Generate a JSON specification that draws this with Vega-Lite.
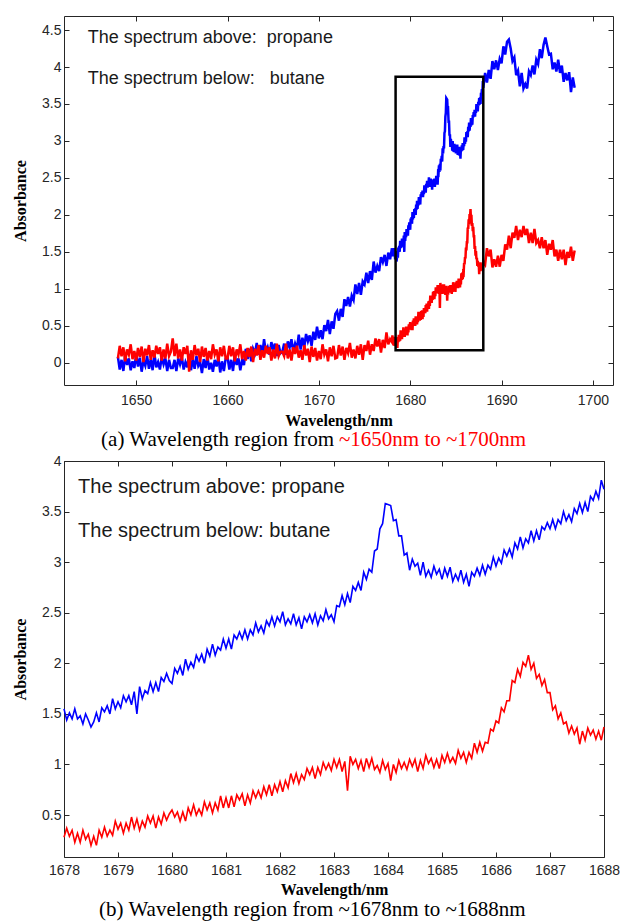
{
"$schema": "https://vega.github.io/schema/vega-lite/v6.json",
"autosize": {"type": "pad"},
"padding": {"left": 12, "top": 15, "right": 0, "bottom": 0},
"bounds": "flush",
"spacing": 76,
"background": "white",
"config": {
  "view": {"stroke": "#262626", "strokeWidth": 1},
  "axis": {"grid": false, "domain": false, "tickSize": -5, "tickColor": "#262626", "tickWidth": 1, "labelFont": "Liberation Sans", "labelFontSize": 14, "labelColor": "#262626", "labelFlush": false, "labelOverlap": false, "titleFont": "Liberation Serif", "titleFontSize": 16, "titleFontWeight": "bold", "titleColor": "#000000"},
  "axisX": {"labelPadding": 13},
  "axisY": {"labelPadding": 8, "titlePadding": 13}
},
"datasets": {
"spec": [
{"x":1648.0,"p":0.08,"b":0.06},{"x":1648.2,"p":-0.09,"b":0.23},{"x":1648.4,"p":0.04,"b":0.09},{"x":1648.6,"p":-0.11,"b":0.21},{"x":1648.8,"p":0.10,"b":0.02},
{"x":1649.0,"p":-0.03,"b":0.18},{"x":1649.2,"p":0.06,"b":0.11},{"x":1649.4,"p":-0.10,"b":0.25},{"x":1649.6,"p":0.02,"b":0.05},{"x":1649.8,"p":-0.07,"b":0.16},
{"x":1650.0,"p":0.11,"b":0.03},{"x":1650.2,"p":-0.05,"b":0.20},{"x":1650.4,"p":0.07,"b":0.08},{"x":1650.6,"p":-0.12,"b":0.22},{"x":1650.8,"p":0.03,"b":0.01},
{"x":1651.0,"p":-0.04,"b":0.19},{"x":1651.2,"p":0.09,"b":0.10},{"x":1651.4,"p":-0.08,"b":0.24},{"x":1651.6,"p":0.05,"b":0.04},{"x":1651.8,"p":-0.10,"b":0.17},
{"x":1652.0,"p":0.12,"b":0.07},{"x":1652.2,"p":-0.06,"b":0.23},{"x":1652.4,"p":0.01,"b":0.12},{"x":1652.6,"p":-0.09,"b":0.21},{"x":1652.8,"p":0.08,"b":0.03},
{"x":1653.0,"p":-0.02,"b":0.18},{"x":1653.2,"p":0.06,"b":0.06},{"x":1653.4,"p":-0.11,"b":0.26},{"x":1653.6,"p":0.04,"b":0.09},{"x":1653.8,"p":-0.07,"b":0.15},
{"x":1654.0,"p":-0.07,"b":0.33},{"x":1654.2,"p":0.04,"b":0.09},{"x":1654.4,"p":-0.11,"b":0.26},{"x":1654.6,"p":0.06,"b":0.06},{"x":1654.8,"p":-0.02,"b":0.18},
{"x":1655.0,"p":0.08,"b":0.03},{"x":1655.2,"p":-0.09,"b":0.21},{"x":1655.4,"p":0.01,"b":0.12},{"x":1655.6,"p":-0.06,"b":0.23},{"x":1655.8,"p":0.12,"b":-0.12},
{"x":1656.0,"p":-0.10,"b":0.17},{"x":1656.2,"p":0.05,"b":0.04},{"x":1656.4,"p":-0.08,"b":0.24},{"x":1656.6,"p":0.09,"b":0.10},{"x":1656.8,"p":-0.04,"b":0.19},
{"x":1657.0,"p":0.01,"b":0.01},{"x":1657.2,"p":-0.14,"b":0.22},{"x":1657.4,"p":0.05,"b":0.08},{"x":1657.6,"p":-0.07,"b":0.20},{"x":1657.8,"p":0.09,"b":0.03},
{"x":1658.0,"p":-0.09,"b":0.16},{"x":1658.2,"p":0.00,"b":0.05},{"x":1658.4,"p":-0.12,"b":0.25},{"x":1658.6,"p":0.04,"b":0.11},{"x":1658.8,"p":-0.05,"b":0.18},
{"x":1659.0,"p":0.08,"b":0.02},{"x":1659.2,"p":-0.13,"b":0.21},{"x":1659.4,"p":0.02,"b":0.09},{"x":1659.6,"p":-0.11,"b":0.23},{"x":1659.8,"p":0.06,"b":0.06},
{"x":1660.0,"p":0.08,"b":0.06},{"x":1660.2,"p":-0.09,"b":0.23},{"x":1660.4,"p":0.04,"b":0.09},{"x":1660.6,"p":-0.11,"b":0.21},{"x":1660.8,"p":0.10,"b":0.02},
{"x":1661.0,"p":-0.03,"b":0.18},{"x":1661.2,"p":0.06,"b":0.11},{"x":1661.4,"p":-0.10,"b":0.25},{"x":1661.6,"p":0.04,"b":0.05},{"x":1661.8,"p":-0.03,"b":0.16},
{"x":1662.0,"p":0.19,"b":0.03},{"x":1662.2,"p":0.05,"b":0.20},{"x":1662.4,"p":0.19,"b":0.08},{"x":1662.6,"p":0.02,"b":0.22},{"x":1662.8,"p":0.19,"b":0.01},
{"x":1663.0,"p":0.13,"b":0.19},{"x":1663.2,"p":0.27,"b":0.10},{"x":1663.4,"p":0.11,"b":0.24},{"x":1663.6,"p":0.24,"b":0.04},{"x":1663.8,"p":0.10,"b":0.17},
{"x":1664.0,"p":0.32,"b":0.07},{"x":1664.2,"p":0.14,"b":0.23},{"x":1664.4,"p":0.21,"b":0.12},{"x":1664.6,"p":0.11,"b":0.21},{"x":1664.8,"p":0.28,"b":0.03},
{"x":1665.0,"p":0.18,"b":0.18},{"x":1665.2,"p":0.26,"b":0.06},{"x":1665.4,"p":0.09,"b":0.26},{"x":1665.6,"p":0.24,"b":0.09},{"x":1665.8,"p":0.13,"b":0.15},
{"x":1666.0,"p":0.15,"b":0.15},{"x":1666.2,"p":0.26,"b":0.09},{"x":1666.4,"p":0.11,"b":0.26},{"x":1666.6,"p":0.29,"b":0.06},{"x":1666.8,"p":0.21,"b":0.18},
{"x":1667.0,"p":0.32,"b":0.03},{"x":1667.2,"p":0.15,"b":0.21},{"x":1667.4,"p":0.26,"b":0.12},{"x":1667.6,"p":0.19,"b":0.23},{"x":1667.8,"p":0.38,"b":0.07},
{"x":1668.0,"p":0.18,"b":0.17},{"x":1668.2,"p":0.34,"b":0.04},{"x":1668.4,"p":0.21,"b":0.24},{"x":1668.6,"p":0.39,"b":0.10},{"x":1668.8,"p":0.29,"b":0.19},
{"x":1669.0,"p":0.37,"b":0.01},{"x":1669.2,"p":0.23,"b":0.22},{"x":1669.4,"p":0.42,"b":0.08},{"x":1669.6,"p":0.31,"b":0.20},{"x":1669.8,"p":0.49,"b":0.03},
{"x":1670.0,"p":0.33,"b":0.16},{"x":1670.2,"p":0.44,"b":0.05},{"x":1670.4,"p":0.32,"b":0.25},{"x":1670.6,"p":0.51,"b":0.11},{"x":1670.8,"p":0.43,"b":0.18},
{"x":1671.0,"p":0.58,"b":0.02},{"x":1671.2,"p":0.39,"b":0.21},{"x":1671.4,"p":0.56,"b":0.09},{"x":1671.6,"p":0.46,"b":0.23},{"x":1671.8,"p":0.66,"b":0.06},
{"x":1672.0,"p":0.70,"b":0.07},{"x":1672.2,"p":0.57,"b":0.24},{"x":1672.4,"p":0.73,"b":0.10},{"x":1672.6,"p":0.62,"b":0.22},{"x":1672.8,"p":0.86,"b":0.04},
{"x":1673.0,"p":0.77,"b":0.20},{"x":1673.2,"p":0.89,"b":0.13},{"x":1673.4,"p":0.76,"b":0.27},{"x":1673.6,"p":0.91,"b":0.07},{"x":1673.8,"p":0.85,"b":0.18},
{"x":1674.0,"p":1.06,"b":0.06},{"x":1674.2,"p":0.93,"b":0.23},{"x":1674.4,"p":1.08,"b":0.11},{"x":1674.6,"p":0.92,"b":0.25},{"x":1674.8,"p":1.10,"b":0.04},
{"x":1675.0,"p":1.06,"b":0.24},{"x":1675.2,"p":1.22,"b":0.16},{"x":1675.4,"p":1.08,"b":0.30},{"x":1675.6,"p":1.24,"b":0.11},{"x":1675.8,"p":1.12,"b":0.25},
{"x":1676.0,"p":1.37,"b":0.16},{"x":1676.2,"p":1.22,"b":0.33},{"x":1676.4,"p":1.31,"b":0.22},{"x":1676.6,"p":1.24,"b":0.32},{"x":1676.8,"p":1.43,"b":0.14},
{"x":1677.0,"p":1.36,"b":0.31},{"x":1677.2,"p":1.46,"b":0.20},{"x":1677.4,"p":1.31,"b":0.41},{"x":1677.6,"p":1.49,"b":0.25},{"x":1677.8,"p":1.40,"b":0.32},
{"x":1678.00,"p":1.55,"b":0.28},{"x":1678.05,"p":1.44,"b":0.37},{"x":1678.10,"p":1.51,"b":0.29},{"x":1678.15,"p":1.45,"b":0.35},{"x":1678.20,"p":1.55,"b":0.23},
{"x":1678.25,"p":1.45,"b":0.32},{"x":1678.30,"p":1.48,"b":0.23},{"x":1678.35,"p":1.40,"b":0.35},{"x":1678.40,"p":1.50,"b":0.26},{"x":1678.45,"p":1.44,"b":0.31},
{"x":1678.50,"p":1.37,"b":0.20},{"x":1678.55,"p":1.42,"b":0.29},{"x":1678.60,"p":1.51,"b":0.20},{"x":1678.65,"p":1.42,"b":0.35},{"x":1678.70,"p":1.56,"b":0.28},
{"x":1678.75,"p":1.52,"b":0.38},{"x":1678.80,"p":1.58,"b":0.29},{"x":1678.85,"p":1.50,"b":0.35},{"x":1678.90,"p":1.65,"b":0.30},{"x":1678.95,"p":1.55,"b":0.44},
{"x":1679.00,"p":1.62,"b":0.36},{"x":1679.05,"p":1.56,"b":0.42},{"x":1679.10,"p":1.68,"b":0.32},{"x":1679.15,"p":1.62,"b":0.42},{"x":1679.20,"p":1.68,"b":0.35},
{"x":1679.25,"p":1.59,"b":0.48},{"x":1679.30,"p":1.72,"b":0.37},{"x":1679.35,"p":1.50,"b":0.46},{"x":1679.40,"p":1.77,"b":0.35},{"x":1679.45,"p":1.65,"b":0.44},
{"x":1679.50,"p":1.73,"b":0.38},{"x":1679.55,"p":1.70,"b":0.49},{"x":1679.60,"p":1.81,"b":0.42},{"x":1679.65,"p":1.72,"b":0.49},{"x":1679.70,"p":1.81,"b":0.37},
{"x":1679.75,"p":1.72,"b":0.48},{"x":1679.80,"p":1.86,"b":0.41},{"x":1679.85,"p":1.82,"b":0.52},{"x":1679.90,"p":1.90,"b":0.45},{"x":1679.95,"p":1.83,"b":0.51},
{"x":1680.00,"p":1.80,"b":0.55},{"x":1680.05,"p":1.95,"b":0.48},{"x":1680.10,"p":1.90,"b":0.53},{"x":1680.15,"p":1.97,"b":0.44},{"x":1680.20,"p":1.88,"b":0.53},
{"x":1680.25,"p":2.04,"b":0.44},{"x":1680.30,"p":1.94,"b":0.57},{"x":1680.35,"p":2.01,"b":0.50},{"x":1680.40,"p":1.96,"b":0.60},{"x":1680.45,"p":2.08,"b":0.50},
{"x":1680.50,"p":2.02,"b":0.56},{"x":1680.55,"p":2.09,"b":0.50},{"x":1680.60,"p":2.00,"b":0.63},{"x":1680.65,"p":2.14,"b":0.55},{"x":1680.70,"p":2.07,"b":0.62},
{"x":1680.75,"p":2.19,"b":0.52},{"x":1680.80,"p":2.08,"b":0.62},{"x":1680.85,"p":2.16,"b":0.55},{"x":1680.90,"p":2.13,"b":0.69},{"x":1680.95,"p":2.24,"b":0.57},
{"x":1681.00,"p":2.15,"b":0.67},{"x":1681.05,"p":2.24,"b":0.57},{"x":1681.10,"p":2.14,"b":0.69},{"x":1681.15,"p":2.28,"b":0.58},{"x":1681.20,"p":2.24,"b":0.70},
{"x":1681.25,"p":2.31,"b":0.65},{"x":1681.30,"p":2.24,"b":0.71},{"x":1681.35,"p":2.33,"b":0.59},{"x":1681.40,"p":2.24,"b":0.70},{"x":1681.45,"p":2.33,"b":0.62},
{"x":1681.50,"p":2.28,"b":0.74},{"x":1681.55,"p":2.40,"b":0.67},{"x":1681.60,"p":2.31,"b":0.74},{"x":1681.65,"p":2.37,"b":0.67},{"x":1681.70,"p":2.30,"b":0.78},
{"x":1681.75,"p":2.42,"b":0.70},{"x":1681.80,"p":2.37,"b":0.80},{"x":1681.85,"p":2.46,"b":0.69},{"x":1681.90,"p":2.37,"b":0.80},{"x":1681.95,"p":2.46,"b":0.73},
{"x":1682.00,"p":2.41,"b":0.83},{"x":1682.05,"p":2.51,"b":0.73},{"x":1682.10,"p":2.38,"b":0.84},{"x":1682.15,"p":2.44,"b":0.77},{"x":1682.20,"p":2.39,"b":0.91},
{"x":1682.25,"p":2.49,"b":0.82},{"x":1682.30,"p":2.38,"b":0.91},{"x":1682.35,"p":2.45,"b":0.81},{"x":1682.40,"p":2.34,"b":0.90},{"x":1682.45,"p":2.46,"b":0.85},
{"x":1682.50,"p":2.41,"b":0.96},{"x":1682.55,"p":2.48,"b":0.90},{"x":1682.60,"p":2.40,"b":0.97},{"x":1682.65,"p":2.49,"b":0.86},{"x":1682.70,"p":2.38,"b":0.97},
{"x":1682.75,"p":2.47,"b":0.90},{"x":1682.80,"p":2.42,"b":1.02},{"x":1682.85,"p":2.53,"b":0.95},{"x":1682.90,"p":2.44,"b":1.01},{"x":1682.95,"p":2.48,"b":0.94},
{"x":1683.00,"p":2.41,"b":1.05},{"x":1683.05,"p":2.57,"b":0.97},{"x":1683.10,"p":2.56,"b":1.05},{"x":1683.15,"p":2.67,"b":0.93},{"x":1683.20,"p":2.58,"b":1.03},
{"x":1683.25,"p":2.69,"b":0.74},{"x":1683.30,"p":2.60,"b":1.08},{"x":1683.35,"p":2.76,"b":1.00},{"x":1683.40,"p":2.72,"b":1.05},{"x":1683.45,"p":2.80,"b":0.96},
{"x":1683.50,"p":2.72,"b":1.04},{"x":1683.55,"p":2.90,"b":0.93},{"x":1683.60,"p":2.83,"b":1.06},{"x":1683.65,"p":2.93,"b":0.97},{"x":1683.70,"p":2.90,"b":1.06},
{"x":1683.75,"p":3.11,"b":0.95},{"x":1683.80,"p":3.13,"b":0.99},{"x":1683.85,"p":3.33,"b":0.92},{"x":1683.90,"p":3.38,"b":1.04},{"x":1683.95,"p":3.58,"b":0.95},
{"x":1684.00,"p":3.57,"b":1.01},{"x":1684.05,"p":3.56,"b":0.84},{"x":1684.10,"p":3.41,"b":1.00},{"x":1684.15,"p":3.42,"b":0.92},{"x":1684.20,"p":3.26,"b":1.04},
{"x":1684.25,"p":3.26,"b":0.96},{"x":1684.30,"p":3.07,"b":1.02},{"x":1684.35,"p":3.09,"b":0.95},{"x":1684.40,"p":2.92,"b":1.05},{"x":1684.45,"p":3.03,"b":0.98},
{"x":1684.50,"p":2.96,"b":1.05},{"x":1684.55,"p":2.99,"b":0.93},{"x":1684.60,"p":2.87,"b":1.04},{"x":1684.65,"p":3.00,"b":0.96},{"x":1684.70,"p":2.86,"b":1.09},
{"x":1684.75,"p":2.92,"b":1.01},{"x":1684.80,"p":2.85,"b":1.06},{"x":1684.85,"p":2.96,"b":0.97},{"x":1684.90,"p":2.88,"b":1.05},{"x":1684.95,"p":2.93,"b":0.96},
{"x":1685.00,"p":2.83,"b":1.09},{"x":1685.05,"p":2.94,"b":1.02},{"x":1685.10,"p":2.86,"b":1.11},{"x":1685.15,"p":2.95,"b":1.02},{"x":1685.20,"p":2.81,"b":1.07},
{"x":1685.25,"p":2.88,"b":1.01},{"x":1685.30,"p":2.82,"b":1.14},{"x":1685.35,"p":2.92,"b":1.06},{"x":1685.40,"p":2.80,"b":1.12},{"x":1685.45,"p":2.88,"b":1.02},
{"x":1685.50,"p":2.76,"b":1.12},{"x":1685.55,"p":2.90,"b":1.06},{"x":1685.60,"p":2.86,"b":1.21},{"x":1685.65,"p":2.94,"b":1.12},{"x":1685.70,"p":2.87,"b":1.22},
{"x":1685.75,"p":2.97,"b":1.13},{"x":1685.80,"p":2.88,"b":1.22},{"x":1685.85,"p":2.97,"b":1.21},{"x":1685.90,"p":2.93,"b":1.35},{"x":1685.95,"p":3.05,"b":1.33},
{"x":1686.00,"p":2.96,"b":1.43},{"x":1686.05,"p":3.04,"b":1.41},{"x":1686.10,"p":2.99,"b":1.56},{"x":1686.15,"p":3.12,"b":1.52},{"x":1686.20,"p":3.06,"b":1.63},
{"x":1686.25,"p":3.13,"b":1.63},{"x":1686.30,"p":3.05,"b":1.83},{"x":1686.35,"p":3.19,"b":1.81},{"x":1686.40,"p":3.13,"b":1.94},{"x":1686.45,"p":3.25,"b":1.87},
{"x":1686.50,"p":3.14,"b":2.01},{"x":1686.55,"p":3.23,"b":1.97},{"x":1686.60,"p":3.19,"b":2.08},{"x":1686.65,"p":3.31,"b":1.94},{"x":1686.70,"p":3.21,"b":2.00},
{"x":1686.75,"p":3.31,"b":1.85},{"x":1686.80,"p":3.22,"b":1.89},{"x":1686.85,"p":3.35,"b":1.78},{"x":1686.90,"p":3.32,"b":1.84},{"x":1686.95,"p":3.39,"b":1.71},
{"x":1687.00,"p":3.33,"b":1.71},{"x":1687.05,"p":3.42,"b":1.54},{"x":1687.10,"p":3.33,"b":1.58},{"x":1687.15,"p":3.42,"b":1.45},{"x":1687.20,"p":3.38,"b":1.51},
{"x":1687.25,"p":3.50,"b":1.40},{"x":1687.30,"p":3.41,"b":1.42},{"x":1687.35,"p":3.47,"b":1.31},{"x":1687.40,"p":3.40,"b":1.38},{"x":1687.45,"p":3.53,"b":1.30},
{"x":1687.50,"p":3.48,"b":1.36},{"x":1687.55,"p":3.58,"b":1.20},{"x":1687.60,"p":3.49,"b":1.33},{"x":1687.65,"p":3.59,"b":1.24},{"x":1687.70,"p":3.50,"b":1.36},
{"x":1687.75,"p":3.65,"b":1.29},{"x":1687.80,"p":3.61,"b":1.34},{"x":1687.85,"p":3.70,"b":1.25},{"x":1687.90,"p":3.63,"b":1.33},{"x":1687.95,"p":3.81,"b":1.24},
{"x":1688.00,"p":3.72,"b":1.37},
{"x":1688.2,"p":3.92,"b":1.33},{"x":1688.4,"p":3.79,"b":1.55},{"x":1688.6,"p":3.96,"b":1.44},{"x":1688.8,"p":3.84,"b":1.53},{"x":1689.0,"p":4.08,"b":1.29},
{"x":1689.2,"p":3.97,"b":1.40},{"x":1689.4,"p":4.09,"b":1.30},{"x":1689.6,"p":3.96,"b":1.45},{"x":1689.8,"p":4.11,"b":1.30},{"x":1690.0,"p":4.05,"b":1.46},
{"x":1690.2,"p":4.28,"b":1.38},{"x":1690.4,"p":4.17,"b":1.60},{"x":1690.6,"p":4.34,"b":1.53},{"x":1690.8,"p":4.37,"b":1.72},{"x":1691.0,"p":4.25,"b":1.55},
{"x":1691.2,"p":4.08,"b":1.76},{"x":1691.4,"p":4.13,"b":1.69},{"x":1691.6,"p":3.89,"b":1.85},{"x":1691.8,"p":3.95,"b":1.66},{"x":1692.0,"p":3.74,"b":1.80},
{"x":1692.2,"p":3.92,"b":1.70},{"x":1692.4,"p":3.71,"b":1.85},{"x":1692.6,"p":3.77,"b":1.73},{"x":1692.8,"p":3.71,"b":1.81},{"x":1693.0,"p":3.94,"b":1.62},
{"x":1693.2,"p":3.89,"b":1.76},{"x":1693.4,"p":4.02,"b":1.62},{"x":1693.6,"p":3.90,"b":1.81},{"x":1693.8,"p":4.10,"b":1.62},{"x":1694.0,"p":4.04,"b":1.66},
{"x":1694.2,"p":4.24,"b":1.55},{"x":1694.4,"p":4.12,"b":1.70},{"x":1694.6,"p":4.30,"b":1.55},{"x":1694.8,"p":4.40,"b":1.66},{"x":1695.0,"p":4.28,"b":1.46},
{"x":1695.2,"p":4.17,"b":1.61},{"x":1695.4,"p":4.18,"b":1.53},{"x":1695.6,"p":3.97,"b":1.66},{"x":1695.8,"p":4.06,"b":1.44},{"x":1696.0,"p":3.94,"b":1.53},
{"x":1696.2,"p":4.10,"b":1.38},{"x":1696.4,"p":3.92,"b":1.53},{"x":1696.6,"p":4.02,"b":1.40},{"x":1696.8,"p":3.80,"b":1.53},{"x":1697.0,"p":3.92,"b":1.32},
{"x":1697.2,"p":3.82,"b":1.50},{"x":1697.4,"p":3.93,"b":1.42},{"x":1697.6,"p":3.66,"b":1.57},{"x":1697.8,"p":3.86,"b":1.38},{"x":1698.0,"p":3.72,"b":1.52}
]
},
"vconcat": [
{
  "width": 549, "height": 369,
  "layer": [
    {
      "layer": [
        {
          "data": {"name": "spec"},
          "mark": {"type": "line", "color": "#0000ff", "strokeWidth": 2.5},
          "encoding": {
            "x": {"field": "x", "type": "quantitative", "title": "Wavelength/nm", "scale": {"domain": [1642.1, 1702.2], "nice": false, "zero": false}, "axis": {"values": [1650, 1660, 1670, 1680, 1690, 1700], "format": "d", "titlePadding": 5}},
            "y": {"field": "p", "type": "quantitative", "title": "Absorbance", "scale": {"domain": [-0.3, 4.69], "nice": false, "zero": false}, "axis": {"values": [0, 0.5, 1, 1.5, 2, 2.5, 3, 3.5, 4, 4.5], "format": "~g"}}
          }
        },
        {
          "data": {"name": "spec"},
          "mark": {"type": "line", "color": "#ff0000", "strokeWidth": 2.5},
          "encoding": {
            "x": {"field": "x", "type": "quantitative", "title": "Wavelength/nm"},
            "y": {"field": "b", "type": "quantitative", "title": "Absorbance"}
          }
        },
        {
          "data": {"values": [{"x1": 1678.4, "x2": 1688.0, "y1": 0.17, "y2": 3.87}]},
          "mark": {"type": "rect", "fill": null, "stroke": "#000000", "strokeWidth": 2.5},
          "encoding": {
            "x": {"field": "x1", "type": "quantitative", "title": "Wavelength/nm"},
            "x2": {"field": "x2"},
            "y": {"field": "y1", "type": "quantitative", "title": "Absorbance"},
            "y2": {"field": "y2"}
          }
        },
        {
          "data": {"values": [{"x": 1644.7, "y": 4.33, "t": "The spectrum above:\u00a0 propane"}, {"x": 1644.7, "y": 3.77, "t": "The spectrum below:\u00a0 \u00a0butane"}]},
          "mark": {"type": "text", "align": "left", "baseline": "alphabetic", "font": "Liberation Sans", "fontSize": 18, "color": "#1a1a1a"},
          "encoding": {
            "x": {"field": "x", "type": "quantitative", "title": "Wavelength/nm"},
            "y": {"field": "y", "type": "quantitative", "title": "Absorbance"},
            "text": {"field": "t"}
          }
        },
        {
          "data": {"values": [{"x": 1671.66, "y": -1.13, "t": "(a) Wavelength region from"}]},
          "mark": {"type": "text", "align": "right", "baseline": "alphabetic", "font": "Liberation Serif", "fontSize": 21, "color": "#000000"},
          "encoding": {
            "x": {"field": "x", "type": "quantitative", "title": "Wavelength/nm"},
            "y": {"field": "y", "type": "quantitative", "title": "Absorbance"},
            "text": {"field": "t"}
          }
        },
        {
          "data": {"values": [{"x": 1672.2, "y": -1.13, "t": "~1650nm to ~1700nm"}]},
          "mark": {"type": "text", "align": "left", "baseline": "alphabetic", "font": "Liberation Serif", "fontSize": 21, "color": "#ff0000"},
          "encoding": {
            "x": {"field": "x", "type": "quantitative", "title": "Wavelength/nm"},
            "y": {"field": "y", "type": "quantitative", "title": "Absorbance"},
            "text": {"field": "t"}
          }
        }
      ]
    },
    {
      "data": {"values": [{"x": 1670, "y": 1}]},
      "mark": {"type": "point", "opacity": 0},
      "encoding": {
        "x": {"field": "x", "type": "quantitative", "axis": {"orient": "top", "values": [1650, 1660, 1670, 1680, 1690, 1700], "labels": false, "title": null}},
        "y": {"field": "y", "type": "quantitative", "axis": {"orient": "right", "values": [0, 0.5, 1, 1.5, 2, 2.5, 3, 3.5, 4, 4.5], "labels": false, "title": null}}
      }
    }
  ],
  "resolve": {"axis": {"x": "independent", "y": "independent"}}
},
{
  "width": 540, "height": 396,
  "layer": [
    {
      "layer": [
        {
          "data": {"name": "spec"},
          "transform": [{"filter": {"field": "x", "range": [1678, 1688]}}],
          "mark": {"type": "line", "color": "#0000ff", "strokeWidth": 1.6},
          "encoding": {
            "x": {"field": "x", "type": "quantitative", "title": "Wavelength/nm", "scale": {"domain": [1678, 1688], "nice": false, "zero": false}, "axis": {"values": [1678, 1679, 1680, 1681, 1682, 1683, 1684, 1685, 1686, 1687, 1688], "format": "d", "labelPadding": 11, "titlePadding": 4}},
            "y": {"field": "p", "type": "quantitative", "title": "Absorbance", "scale": {"domain": [0.085, 4], "nice": false, "zero": false}, "axis": {"values": [0.5, 1, 1.5, 2, 2.5, 3, 3.5, 4], "format": "~g"}}
          }
        },
        {
          "data": {"name": "spec"},
          "transform": [{"filter": {"field": "x", "range": [1678, 1688]}}],
          "mark": {"type": "line", "color": "#ff0000", "strokeWidth": 1.6},
          "encoding": {
            "x": {"field": "x", "type": "quantitative", "title": "Wavelength/nm"},
            "y": {"field": "b", "type": "quantitative", "title": "Absorbance"}
          }
        },
        {
          "data": {"values": [{"x": 1678.26, "y": 3.68, "t": "The spectrum above: propane"}, {"x": 1678.26, "y": 3.25, "t": "The spectrum below: butane"}]},
          "mark": {"type": "text", "align": "left", "baseline": "alphabetic", "font": "Liberation Sans", "fontSize": 20, "color": "#1a1a1a"},
          "encoding": {
            "x": {"field": "x", "type": "quantitative", "title": "Wavelength/nm"},
            "y": {"field": "y", "type": "quantitative", "title": "Absorbance"},
            "text": {"field": "t"}
          }
        },
        {
          "data": {"values": [{"x": 1682.6, "y": -0.5, "t": "(b) Wavelength region from ~1678nm to ~1688nm"}]},
          "mark": {"type": "text", "align": "center", "baseline": "alphabetic", "font": "Liberation Serif", "fontSize": 21, "color": "#000000"},
          "encoding": {
            "x": {"field": "x", "type": "quantitative", "title": "Wavelength/nm"},
            "y": {"field": "y", "type": "quantitative", "title": "Absorbance"},
            "text": {"field": "t"}
          }
        }
      ]
    },
    {
      "data": {"values": [{"x": 1683, "y": 1}]},
      "mark": {"type": "point", "opacity": 0},
      "encoding": {
        "x": {"field": "x", "type": "quantitative", "axis": {"orient": "top", "values": [1678, 1679, 1680, 1681, 1682, 1683, 1684, 1685, 1686, 1687, 1688], "labels": false, "title": null}},
        "y": {"field": "y", "type": "quantitative", "axis": {"orient": "right", "values": [0.5, 1, 1.5, 2, 2.5, 3, 3.5, 4], "labels": false, "title": null}}
      }
    }
  ],
  "resolve": {"axis": {"x": "independent", "y": "independent"}}
}
]
}
